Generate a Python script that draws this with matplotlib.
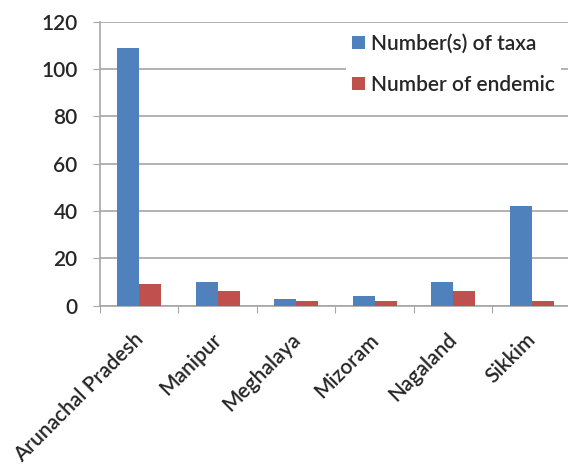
import numpy as np
import matplotlib.pyplot as plt
import matplotlib.transforms as mtransforms

plt.rcParams['font.family'] = ['Lato', 'DejaVu Sans']
plt.rcParams['font.size'] = 15

states = ['Arunachal Pradesh', 'Manipur', 'Meghalaya', 'Mizoram', 'Nagaland', 'Sikkim']
taxa = [109, 10, 3, 4, 10, 42]
endemic = [9, 6, 2, 2, 6, 2]

blue = '#4F81BD'
red = '#C0504D'
grid_col = '#A6A6A6'
txt_col = '#262626'

fig = plt.figure(figsize=(5.68, 4.71), dpi=100)
ax = fig.add_axes([0.176, 0.351, 0.829, 0.603])

x = np.arange(len(states))
w = 0.28
ax.bar(x + 0.5 - w / 2, taxa, w, color=blue, label='Number(s) of taxa', zorder=3)
ax.bar(x + 0.5 + w / 2, endemic, w, color=red, label='Number of endemic', zorder=3)

ax.set_xlim(0, len(states))
ax.set_ylim(0, 120)
ax.set_yticks(range(0, 121, 20))
ax.yaxis.grid(True, color=grid_col, linewidth=1.2, zorder=0)
ax.set_xticks(range(len(states) + 1))
ax.set_xticklabels([])
ax.set_xticks(x + 0.5, minor=True)
ax.set_xticklabels(states, minor=True, rotation=45, ha='right', va='top',
                   rotation_mode='anchor', color=txt_col, fontweight='semibold')
ax.tick_params(axis='x', which='minor', length=0, pad=20)
ax.tick_params(axis='x', which='major', length=5, color=grid_col, direction='out')
ax.tick_params(axis='y', length=5, color=grid_col, pad=11, labelcolor=txt_col)
for t in ax.get_yticklabels():
    t.set_fontweight('semibold')

# nudge the rotated category labels a little left and up
shift = mtransforms.ScaledTranslation(-6 / 100, 4 / 100, fig.dpi_scale_trans)
for t in ax.get_xticklabels(minor=True):
    t.set_transform(t.get_transform() + shift)

for s in ['top', 'right']:
    ax.spines[s].set_visible(False)
for s in ['left', 'bottom']:
    ax.spines[s].set_color(grid_col)
    ax.spines[s].set_linewidth(1.2)

leg = ax.legend(loc='upper left', bbox_to_anchor=(0.50, 1.015), frameon=True,
                fancybox=False, edgecolor='none', facecolor='white', framealpha=1,
                handlelength=0.6, handleheight=0.6, handletextpad=0.3,
                labelspacing=1.0, borderpad=0.3)
for t in leg.get_texts():
    t.set_color(txt_col)
    t.set_fontweight('semibold')

fig.savefig('out.png', dpi=100)
